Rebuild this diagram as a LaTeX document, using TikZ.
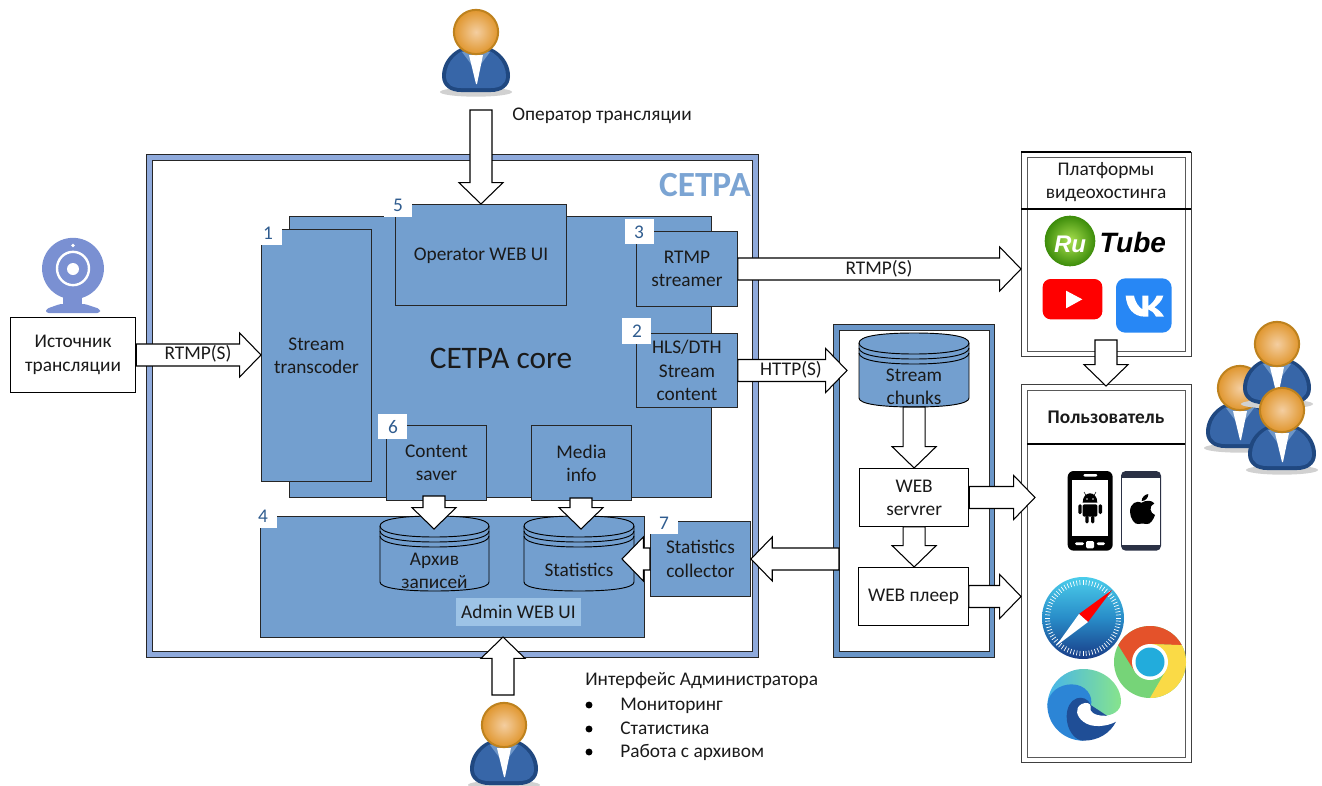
\documentclass[tikz,border=0pt]{standalone}
\usepackage{fontspec}
\setmainfont{Carlito}
\newfontfamily\logofont{Liberation Sans}
\usetikzlibrary{calc,shapes.geometric}
\definecolor{boxblue}{HTML}{739FCF}
\definecolor{framea}{HTML}{8FAADC}
\definecolor{frameb}{HTML}{6A96C8}
\definecolor{titleblue}{HTML}{7BA4D3}
\definecolor{numblue}{HTML}{2F5C8F}
\definecolor{camblue}{HTML}{7A90D2}
\definecolor{adminbg}{HTML}{9DC3E6}
\definecolor{inkk}{HTML}{1A1A1A}
\newcommand{\tsize}{\fontsize{14.5}{17.4}\selectfont}
\tikzset{
  bluebox/.style={draw=black!85,fill=boxblue,line width=.7pt,inner sep=0pt,align=center,font=\tsize,text=inkk,anchor=north west},
  whitebox/.style={draw=black,fill=white,line width=.7pt,inner sep=0pt,align=center,font=\tsize,text=inkk,anchor=north west},
  txt/.style={inner sep=0pt,align=center,font=\tsize,text=inkk},
  ltxt/.style={inner sep=0pt,anchor=base west,font=\tsize,text=inkk},
  numlab/.style={inner sep=0pt,anchor=center,text=numblue,font=\tsize},
  notch/.style={fill=white,draw=none},
  arrowline/.style={draw=black,fill=white,line width=.8pt,line join=miter},
  frameout/.style={line width=.7pt,draw=black!85},
  framein/.style={line width=.7pt,draw=black!85,fill=white},
  zone/.style={shift={(1020,150)},x=.25pt,y=-.25pt},
  ztwo/.style={shift={(1020,450)},x=.25pt,y=-.25pt},
}
% block arrow from #1 to #2
\newcommand{\barrow}[2]{%
  \coordinate (hh) at ($(#2)!16pt!(#1)$);
  \draw[arrowline]
    ($(#1)!8.25pt!90:(hh)$) -- ($(hh)!8.25pt!-90:(#1)$) -- ($(hh)!16.5pt!-90:(#1)$) -- (#2)
    -- ($(hh)!16.5pt!90:(#1)$) -- ($(hh)!8.25pt!90:(#1)$) -- ($(#1)!8.25pt!-90:(hh)$) -- cycle;
}
% person: head centre x,y
\newcommand{\person}[2]{%
  \begin{scope}[shift={(#1,#2)}]
    \fill[black!18] (0,60) ellipse [x radius=27pt,y radius=3.5pt];
    \fill[color={rgb,255:red,32;green,72;blue,128}]
      (0,13) .. controls (-20,13) and (-34,28) .. (-34,44) .. controls (-34,55) and (-25,60) .. (-15,60)
      -- (15,60) .. controls (25,60) and (34,55) .. (34,44) .. controls (34,28) and (20,13) .. (0,13) -- cycle;
    \fill[color={rgb,255:red,55;green,102;blue,168}]
      (0,16) .. controls (-18,16) and (-30,30) .. (-30,44) .. controls (-30,53) and (-23,56) .. (-15,56)
      -- (15,56) .. controls (23,56) and (30,53) .. (30,44) .. controls (30,30) and (18,16) .. (0,16) -- cycle;
    \fill[color={rgb,255:red,110;green,150;blue,200}] (-14,20) -- (-5,32) -- (0,24) -- (5,32) -- (14,20) -- cycle;
    \fill[white] (-7,23) -- (7,23) -- (1,52) -- (0,52) -- cycle;
    \shade[inner color={rgb,255:red,244;green,206;blue,160},outer color={rgb,255:red,224;green,150;blue,46},draw={rgb,255:red,190;green,130;blue,30},line width=1.5pt]
      (0,0) circle [radius=16.6pt];
  \end{scope}
}
% cylinder: name, x1, y1, x2, y2, text, text y
\newcommand{\cyl}[7]{%
  \pgfmathsetmacro{\cx}{(#2+#4)/2}
  \pgfmathsetmacro{\ya}{#3+10}
  \pgfmathsetmacro{\yb}{#5-9}
  \fill[boxblue,draw=black,line width=.7pt]
    (#2,\ya) -- (#2,\yb) .. controls (#2,#5-3) and (#2+22,#5) .. (\cx,#5) .. controls (#4-22,#5) and (#4,#5-3) .. (#4,\yb)
    -- (#4,\ya) .. controls (#4,#3+3) and (#4-22,#3) .. (\cx,#3) .. controls (#2+22,#3) and (#2,#3+3) .. (#2,\ya) -- cycle;
  \foreach \d in {0,5,10}{
    \draw[black,line width=.7pt] (#2,\ya+\d) .. controls (#2,\ya+\d+7) and (#2+22,\ya+\d+11) .. (\cx,\ya+\d+11)
      .. controls (#4-22,\ya+\d+11) and (#4,\ya+\d+7) .. (#4,\ya+\d);
  }
  \node[minimum width=82.5pt,minimum height=1pt,inner sep=0pt] (#1) at (\cx,#3) {};
  \node[txt] (#1t) at (\cx,#7) {#6};
}
\begin{document}
\begin{tikzpicture}[x=.75pt,y=-.75pt]
\useasboundingbox (0,0) rectangle (1322,786);

% СЕТРА frame
\draw[frameout,fill=framea] (146,154) rectangle (758,657);
\draw[framein] (152,160) rectangle (752,651);
\node[inner sep=0pt,anchor=east,text=titleblue,font=\fontsize{26.5}{30}\selectfont\bfseries] (setra) at (751,185) {СЕТРА};

% core
\node[bluebox,minimum width=316.5pt,minimum height=210.75pt] (core) at (289,216) {};
\node[inner sep=0pt,text=inkk,font=\fontsize{23.5}{28}\selectfont] (coret) at (501,358) {СЕТРА core};
\fill[notch] (384,203) rectangle (412,217);
\node[bluebox,minimum width=128.25pt,minimum height=75.75pt] (op) at (395,204) {};
\fill[notch] (384,190) rectangle (395,217);
\fill[notch] (395,192) rectangle (412,217);
\node[txt] (opt) at (481,256) {Operator WEB UI};
\node[numlab] (n5) at (398,205) {5};

\node[bluebox,minimum width=82.5pt,minimum height=189pt] (trans) at (261,229) {Stream\\transcoder};
\fill[notch] (258,226) rectangle (282,245);
\node[numlab] (n1) at (268,233) {1};

\node[bluebox,minimum width=75.75pt,minimum height=56.25pt] (rtmp) at (636,231) {RTMP\\streamer};
\fill[notch] (625,219) rectangle (654,244);
\node[numlab] (n3) at (639,232) {3};
\node[bluebox,minimum width=75.75pt,minimum height=55.5pt] (hls) at (636,333) {HLS/DTH\\Stream\\content};
\fill[notch] (622,318) rectangle (651,344);
\node[numlab] (n2) at (637,331) {2};
\node[bluebox,minimum width=75pt,minimum height=56.25pt] (saver) at (386,425) {Content\\saver};
\fill[notch] (378,414) rectangle (407,439);
\node[numlab] (n6) at (393,427) {6};
\node[bluebox,minimum width=75pt,minimum height=56.25pt] (media) at (531,425) {Media\\info};

% admin
\node[bluebox,minimum width=288pt,minimum height=90.75pt] (admin) at (260,516) {};
\fill[notch] (258,505) rectangle (277,528);
\node[numlab] (n4) at (263,516) {4};
\cyl{arch}{380}{516}{489}{591}{Архив\\записей}{571}
\cyl{stat}{524}{516}{634}{591}{Statistics}{570}
\node[fill=adminbg,inner sep=0pt,minimum width=93.75pt,minimum height=21pt,font=\tsize,text=inkk] (adminl) at (518.5,612) {Admin WEB UI};
\node[bluebox,minimum width=75pt,minimum height=56.25pt] (coll) at (650,521) {Statistics\\collector};
\fill[notch] (650,512) rectangle (678,534);
\node[numlab] (n7) at (664,523) {7};

% source
\fill[camblue] (73,268.5) ellipse [x radius=23.2pt,y radius=23pt];
\fill[camblue] (63,295) rectangle (82,306);
\fill[camblue,rounded corners=2pt] (46,313) -- (46,309) -- (60,304) -- (85,304) -- (100,309) -- (100,313) -- cycle;
\fill[white] (73,245.5) circle [radius=1.4pt];
\draw[white,line width=1.8pt] (73,268.5) ellipse [x radius=12pt,y radius=12.5pt];
\fill[white] (73,269) circle [radius=4.5pt];
\node[whitebox,minimum width=94pt,minimum height=56.25pt] (source) at (10,317) {Источник\\трансляции};

% stream frame
\draw[frameout,fill=frameb] (833,324) rectangle (994,657);
\draw[framein] (839,330) rectangle (989,651);
\cyl{chunks}{859}{333}{969}{407}{Stream\\chunks}{387}
\node[whitebox,minimum width=82pt,minimum height=43.5pt] (web) at (859,468) {WEB\\servrer};
\node[whitebox,minimum width=82.5pt,minimum height=43.5pt] (player) at (858,567) {WEB плеер};

% hosting
\draw[line width=.6pt,draw=black!75] (1021,152) rectangle (1191,356);
\draw[line width=.6pt,draw=black!65] (1027,157) rectangle (1185,351);
\coordinate (hostL) at (1021,268);
\draw[line width=1.1pt] (1021,152) -- (1191,152);
\draw[line width=1.1pt] (1021,209) -- (1191,209);
\node[txt] (hostt) at (1106,182) {Платформы\\видеохостинга};

% users
\draw[line width=.6pt,draw=black!75] (1021,384) rectangle (1191,762);
\draw[line width=.6pt,draw=black!65] (1027,390) rectangle (1185,757);
\draw[line width=1.1pt] (1027,444) -- (1185,444);
\node[txt,font=\fontsize{14.5}{17.4}\selectfont\bfseries] (usert) at (1106,417) {Пользователь};
\coordinate (usersT) at (1106,386);
\coordinate (hostB) at (1106,340);

% arrows
\coordinate (opS) at (op.north |- 0,110);
\barrow{opS}{op.north}
\node[ltxt] (opl) at (512,120) {Оператор трансляции};

\barrow{source.east}{source.east -| trans.west}
\node[txt] (l1) at (198,354) {RTMP(S)};
\barrow{rtmp.east}{rtmp.east -| hostL}
\node[txt] (l2) at (879,269) {RTMP(S)};
\coordinate (hlsT) at ($(hls.east -| chunks.west)+(-12,0)$);
\coordinate (hlsT) at (847,0 |- hls.east);
\barrow{hls.east}{hlsT}
\node[txt] (l3) at (791,370) {HTTP(S)};

\coordinate (chB) at (web.north |- 0,407);
\barrow{chB}{web.north}
\barrow{web.south}{web.south |- player.north}
\coordinate (webT) at (1035,0 |- web.east);
\barrow{web.east}{webT}
\coordinate (plT) at (1021,0 |- player.east);
\barrow{player.east}{plT}
\coordinate (backS) at (839,0 |- coll.east);
\barrow{backS}{coll.east}
\barrow{hostB}{usersT}

\coordinate (sv) at (434,496);
\coordinate (svT) at (434,529);
\barrow{sv}{svT}
\coordinate (md) at (581,498);
\coordinate (mdT) at (581,529);
\barrow{md}{mdT}
\coordinate (stT) at (622,0 |- coll.west);
\barrow{coll.west}{stT}
\coordinate (adS) at (503,695);
\coordinate (adT) at (503,637);
\barrow{adS}{adT}

% people
\person{476}{32}
\person{504}{725}
\person{1240}{388}
\person{1277}{344}
\person{1282}{410}

% admin text
\node[ltxt] (ad0) at (585,685) {Интерфейс Администратора};
\foreach \yy/\tt/\nm in {705/Мониторинг/ad1,729/Статистика/ad2,752/Работа с архивом/ad3}{
  \fill[black] (589,\yy) circle [radius=2.6pt];
  \node[ltxt] (\nm) at (620,\yy+5) {\tt};
}

% RuTube logo
\begin{scope}[zone]
  \shade[inner color={rgb,255:red,170;green,225;blue,80},outer color={rgb,255:red,60;green,140;blue,10}] (150,273) circle [radius=19pt];
  \node[inner sep=0pt,text=white,font=\logofont\fontsize{18}{20}\selectfont\bfseries\itshape] (ru) at (150,283) {Ru};
  \node[inner sep=0pt,anchor=west,font=\logofont\fontsize{21}{24}\selectfont\bfseries\itshape] (tube) at (238,276) {Tube};
  % YouTube
  \fill[red,rounded corners=6pt] (68,387) rectangle (247,508);
  \fill[white] (138,422) -- (187,448) -- (138,475) -- cycle;
  % VK
  \fill[color={rgb,255:red,39;green,135;blue,245},rounded corners=7pt] (288,385) rectangle (455,548);
  \fill[white] (317,437) -- (342,437) .. controls (347,460) and (356,470) .. (367,478) -- (367,437) -- (385,437) -- (385,468)
    .. controls (395,462) and (405,450) .. (410,437) -- (430,437) .. controls (425,455) and (412,465) .. (403,472)
    .. controls (415,478) and (425,488) .. (432,500) -- (408,500) .. controls (402,488) and (395,482) .. (385,478) -- (385,500) -- (375,500)
    .. controls (340,500) and (320,475) .. (317,437) -- cycle;
\end{scope}

% phones
\begin{scope}[ztwo]
  \fill[black,rounded corners=4.5pt] (143,63) rectangle (278,302);
  \fill[white] (157,90) rectangle (263,258);
  \fill[white,rounded corners=1pt] (190,72) rectangle (232,80);
  \fill[white,rounded corners=1pt] (165,277) rectangle (192,285);
  \fill[white,rounded corners=1pt] (198,273) rectangle (222,295);
  \fill[white,rounded corners=1pt] (230,277) rectangle (255,285);
  \fill[black] (188,158) .. controls (188,138) and (200,130) .. (210,130) .. controls (220,130) and (232,138) .. (232,158) -- cycle;
  \fill[black,rounded corners=1pt] (188,163) rectangle (232,200);
  \fill[black,rounded corners=1pt] (175,163) rectangle (185,192);
  \fill[black,rounded corners=1pt] (236,163) rectangle (246,192);
  \fill[black,rounded corners=1pt] (196,198) rectangle (206,220);
  \fill[black,rounded corners=1pt] (213,198) rectangle (223,220);
  \draw[black,line width=.4pt] (197,135) -- (192,126) (223,135) -- (228,126);
  \fill[white] (199,145) rectangle (203,149) (217,145) rectangle (221,149);

  \fill[color={rgb,255:red,43;green,49;blue,69},rounded corners=3.5pt] (303,63) rectangle (423,302);
  \fill[white] (306,85) rectangle (420,285);
  \fill[black] (365,158) .. controls (350,150) and (330,160) .. (330,185) .. controls (330,205) and (345,225) .. (355,222)
    .. controls (362,220) and (372,220) .. (380,222) .. controls (390,224) and (400,210) .. (405,195)
    .. controls (390,190) and (385,168) .. (403,160) .. controls (395,150) and (378,150) .. (365,158) -- cycle;
  \fill[black] (365,153) .. controls (365,142) and (375,133) .. (385,132) .. controls (385,145) and (375,153) .. (365,153) -- cycle;

  % Edge
  \shade[left color={rgb,255:red,70;green,180;blue,235},right color={rgb,255:red,135;green,228;blue,140}]
    (82,765) .. controls (85,700) and (135,657) .. (190,657) .. controls (255,657) and (303,705) .. (303,755)
    .. controls (303,785) and (275,797) .. (250,797) -- (212,770) .. controls (190,700) and (120,700) .. (82,765) -- cycle;
  \fill[color={rgb,255:red,44;green,133;blue,214}]
    (82,765) .. controls (85,725) and (120,703) .. (155,703) .. controls (195,703) and (222,735) .. (212,770)
    -- (190,872) .. controls (130,872) and (82,825) .. (82,765) -- cycle;
  \fill[color={rgb,255:red,31;green,78;blue,150}]
    (212,765) .. controls (205,745) and (185,740) .. (170,745) .. controls (150,752) and (140,775) .. (140,800)
    .. controls (140,840) and (165,872) .. (190,872) .. controls (235,872) and (270,850) .. (288,815) -- cycle;
  \fill[white] (212,770) .. controls (205,785) and (225,797) .. (250,797) .. controls (265,797) and (280,800) .. (288,815)
    .. controls (260,830) and (215,835) .. (190,815) .. controls (170,800) and (162,775) .. (185,762) .. controls (200,755) and (212,760) .. (212,770) -- cycle;
\end{scope}

% Safari
\begin{scope}[shift={(1083,618)},x=1pt,y=1pt,scale=.75]
  \shade[top color={rgb,255:red,75;green,205;blue,235},bottom color={rgb,255:red,25;green,60;blue,135},middle color={rgb,255:red,40;green,140;blue,200}]
    (0,0) circle [radius=41pt];
  \foreach \a in {0,5,...,355}{\draw[white,line width=.5pt] (\a:33pt) -- (\a:38pt);}
  \fill[red] (29,28) -- (-4,4) -- (5,-4) -- cycle;
  \fill[white] (-27,-28) -- (-4,4) -- (5,-4) -- cycle;
\end{scope}

% Chrome
\begin{scope}[shift={(1150,662)},x=1pt,y=1pt,scale=.75]
  \fill[color={rgb,255:red,118;green,212;blue,120}] (0,0) circle [radius=36pt];
  \fill[color={rgb,255:red,228;green,82;blue,42}] (28:36pt) arc [start angle=28,end angle=152,radius=36pt] -- (210:18pt) -- (0,0) -- (90:18pt) -- cycle;
  \fill[color={rgb,255:red,250;green,218;blue,70}] (28:36pt) arc [start angle=28,end angle=-90,radius=36pt] -- (-30:18pt) -- (0,0) -- (90:18pt) -- cycle;
  \fill[white] (0,0) circle [radius=18pt];
  \fill[color={rgb,255:red,34;green,172;blue,220}] (0,0) circle [radius=14.5pt];
\end{scope}
\end{tikzpicture}
\end{document}
